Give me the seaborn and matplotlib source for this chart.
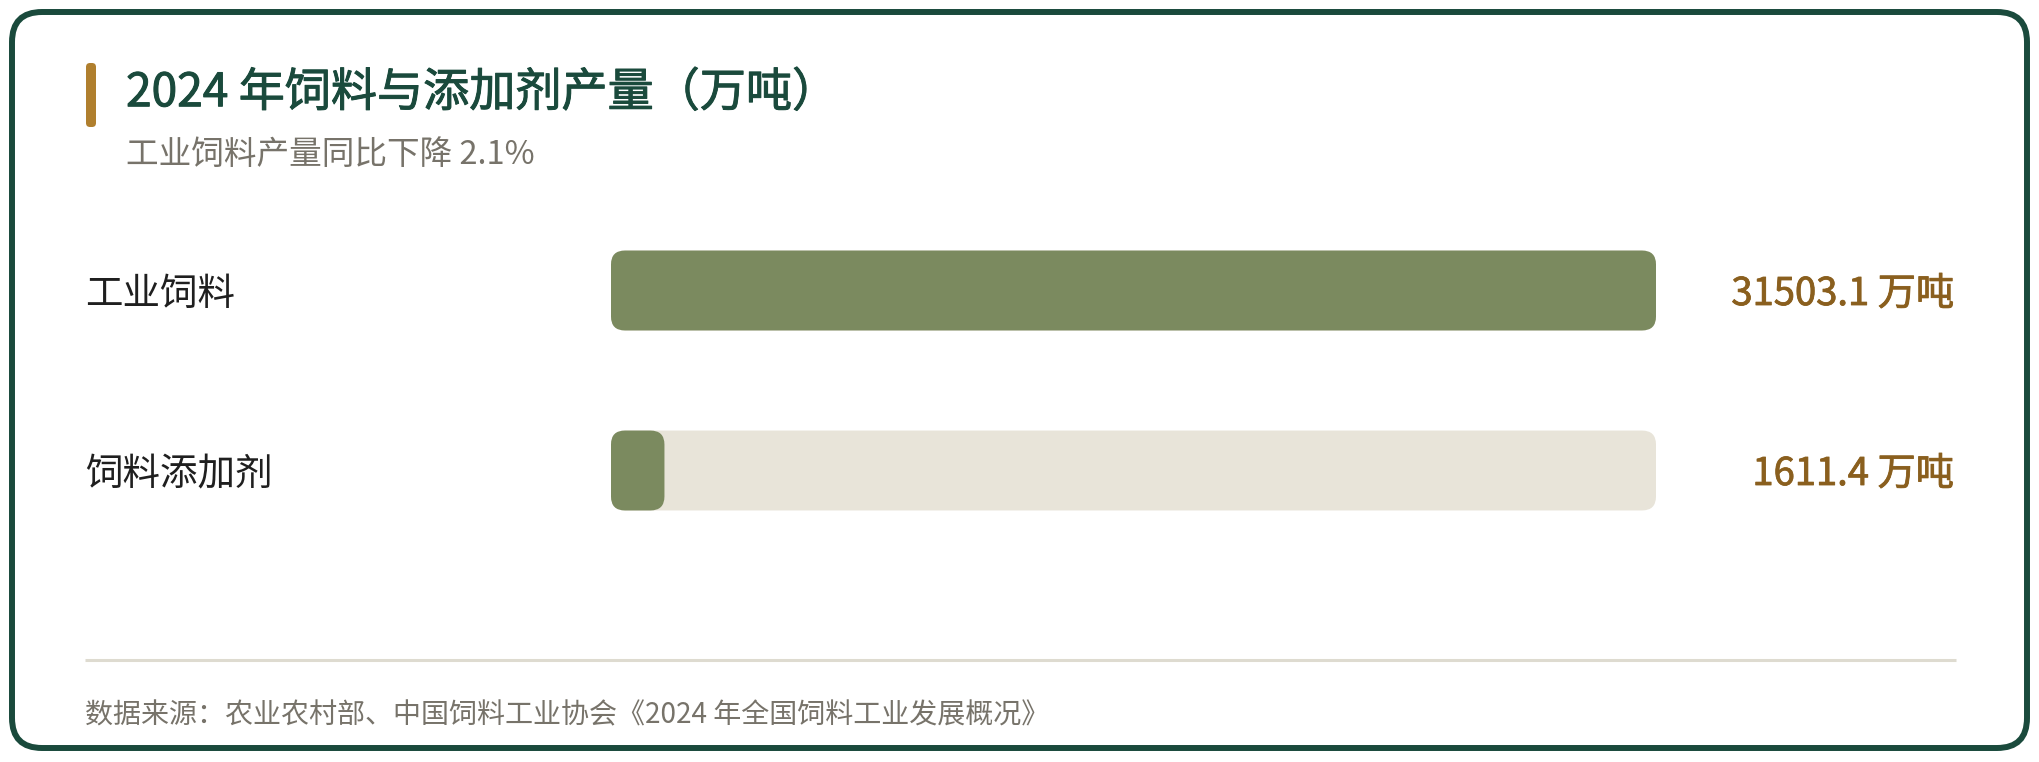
import matplotlib
matplotlib.use("Agg")
import matplotlib.pyplot as plt
from matplotlib.patches import FancyBboxPatch
import matplotlib.transforms as mtransforms
import matplotlib.patheffects as pe
import seaborn as sns
import pandas as pd

# ---- data ----
categories = ["工业饲料", "饲料添加剂"]
values = [31503.1, 1611.4]
value_labels = ["31503.1 万吨", "1611.4 万吨"]
title = "2024 年饲料与添加剂产量（万吨）"
subtitle = "工业饲料产量同比下降 2.1%"
source = "数据来源：农业农村部、中国饲料工业协会《2024 年全国饲料工业发展概况》"

# ---- style ----
sns.set_theme(style="white")
plt.rcParams["font.family"] = ["Noto Sans CJK SC", "DejaVu Sans"]

C_BORDER = "#1a4a3c"
C_TITLE = "#1a4a3c"
C_ACCENT = "#b07f2e"
C_SUB = "#77736a"
C_LABEL = "#1f1f1f"
C_VALUE = "#8a5f1e"
C_TRACK = "#e8e4d9"
C_FILL = "#7b8a5f"
C_SEP = "#dedbd0"

W, H = 2040, 762
fig = plt.figure(figsize=(W / 100, H / 100), dpi=100, facecolor="white")

# background / decoration axes in pixel coordinates
bg = fig.add_axes([0, 0, 1, 1])
bg.set_xlim(0, W)
bg.set_ylim(H, 0)
bg.axis("off")

bg.add_patch(FancyBboxPatch((12, 12), 2015, 736,
                            boxstyle="round,pad=0,rounding_size=30",
                            facecolor="white", edgecolor=C_BORDER, linewidth=4.3, zorder=0))
bg.add_patch(FancyBboxPatch((86, 63), 10, 64,
                            boxstyle="round,pad=0,rounding_size=4",
                            facecolor=C_ACCENT, edgecolor="none", zorder=1))
bg.text(126, 93, title, fontsize=33.2, color=C_TITLE,
        ha="left", va="center",
        path_effects=[pe.withStroke(linewidth=0.7, foreground=C_TITLE)])
bg.text(126, 155, subtitle, fontsize=23.5, color=C_SUB, ha="left", va="center")
bg.plot([85, 1956], [660, 660], color=C_SEP, linewidth=2.2, solid_capstyle="butt")
bg.text(85, 715, source, fontsize=20.2, color=C_SUB, ha="left", va="center")

# ---- bar axes ----
ax_left, ax_right = 611, 1656
ax_top, ax_bottom = 200.5, 560.5
ax = fig.add_axes([ax_left / W, 1 - ax_bottom / H,
                   (ax_right - ax_left) / W, (ax_bottom - ax_top) / H])
ax.patch.set_alpha(0)

vmax = max(values)
df = pd.DataFrame({"category": categories, "value": values,
                   "track": [vmax] * len(values)})

sns.barplot(data=df, y="category", x="track", color=C_TRACK, width=0.444,
            saturation=1, ax=ax, zorder=1)
sns.barplot(data=df, y="category", x="value", color=C_FILL, width=0.444,
            saturation=1, ax=ax, zorder=2)

ax.set_xlim(0, vmax)
ax.set_ylim(len(categories) - 0.5, -0.5)

# replace rectangles with rounded ones (same geometry from seaborn)
p0 = ax.transData.transform((0, 0))
p1 = ax.transData.transform((1, 1))
x_per_px = 1 / abs(p1[0] - p0[0])
y_per_px = 1 / abs(p1[1] - p0[1])
r_px = 14
for i, p in enumerate(list(ax.patches)):
    x0, y0, w, h = p.get_x(), p.get_y(), p.get_width(), p.get_height()
    fc = p.get_facecolor()
    z = p.get_zorder()
    p.remove()
    ax.add_patch(FancyBboxPatch((x0, y0), w, h,
                                boxstyle=f"round,pad=0,rounding_size={r_px * x_per_px}",
                                mutation_aspect=y_per_px / x_per_px,
                                facecolor=fc, edgecolor="none", zorder=z))

ax.axis("off")

# labels (shifted down slightly to match optical centering)
tr = mtransforms.blended_transform_factory(fig.transFigure, ax.transData)
tr = mtransforms.offset_copy(tr, fig=fig, x=0, y=-4, units="dots")
for i, (cat, vl) in enumerate(zip(categories, value_labels)):
    ax.text(85 / W, i, cat, transform=tr, fontsize=27, color=C_LABEL,
            ha="left", va="center", clip_on=False)
    ax.text(1954 / W, i, vl, transform=tr, fontsize=27.5, color=C_VALUE,
            ha="right", va="center", clip_on=False,
            path_effects=[pe.withStroke(linewidth=0.6, foreground=C_VALUE)])

fig.savefig("out.png", dpi=100, facecolor="white")
